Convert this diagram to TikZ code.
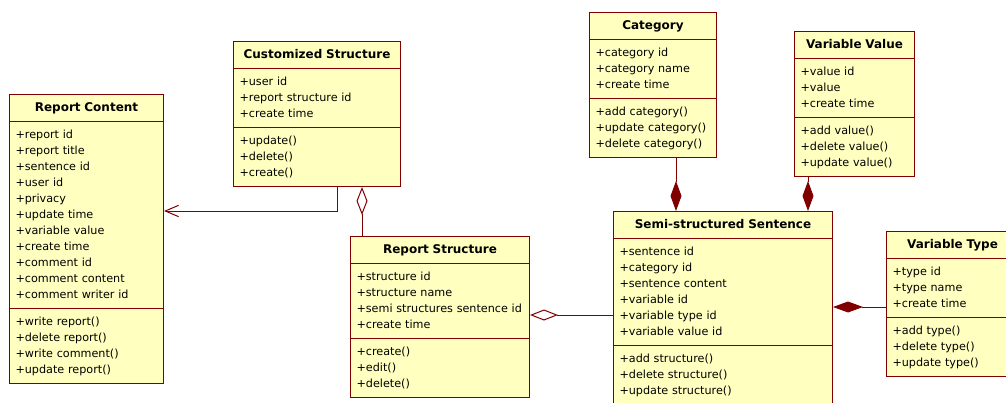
\documentclass[tikz,border=0pt]{standalone}
\usepackage{fontspec}
\setmainfont{DejaVu Sans}
\usepackage{tikz}
\usetikzlibrary{shapes.multipart, arrows.meta}
\definecolor{rosefill}{RGB}{255,255,192}
\definecolor{roseline}{RGB}{128,0,0}
\newcommand{\pub}{\strut+}
\newcommand{\classname}[1]{\hbox to\hsize{\hss\strut\fontsize{9}{12}\selectfont\textbf{#1}\hss}}

\begin{document}
\begin{tikzpicture}[
            x = 0.75pt, y = -0.75pt,
            umlclass/.style = {rectangle split, rectangle split parts=3, draw=roseline, fill=rosefill,
                line width=0.75pt, anchor=north west, align=left, text width=#1,
                inner xsep=4.5pt, inner ysep=3.75pt, font=\fontsize{8.4}{12}\selectfont},
            link/.style = {draw=roseline, line width=0.75pt},
            navigable/.style = {link, -{Straight Barb[length=10pt, width=8.5pt]}},
            aggregation/.style = {link, {Diamond[open, fill=white, length=21pt, width=8.25pt]}-},
            composition/.style = {link, -{Diamond[length=22.5pt, width=8.25pt]}}
        ]
            \clip (0,0) rectangle (1006,403);

            % Classes
            \node[umlclass=106.5pt] (rc) at (9,94) {\classname{Report Content}
                \nodepart{second} \pub report id\\ \pub report title\\ \pub sentence id\\ \pub user id\\
                \pub privacy\\ \pub update time\\ \pub variable value\\ \pub create time\\
                \pub comment id\\ \pub comment content\\ \pub comment writer id
                \nodepart{third} \pub write report()\\ \pub delete report()\\ \pub write comment()\\
                \pub update report()};
            \node[umlclass=116.25pt] (cs) at (233,41) {\classname{Customized Structure}
                \nodepart{second} \pub user id\\ \pub report structure id\\ \pub create time
                \nodepart{third} \pub update()\\ \pub delete()\\ \pub create()};
            \node[umlclass=125.25pt] (rs) at (350,236) {\classname{Report Structure}
                \nodepart{second} \pub structure id\\ \pub structure name\\
                \pub semi structures sentence id\\ \pub create time
                \nodepart{third} \pub create()\\ \pub edit()\\ \pub delete()};
            \node[umlclass=155.25pt] (ss) at (613,211) {\classname{Semi-structured Sentence}
                \nodepart{second} \pub sentence id\\ \pub category id\\ \pub sentence content\\
                \pub variable id\\ \pub variable type id\\ \pub variable value id
                \nodepart{third} \pub add structure()\\ \pub delete structure()\\
                \pub update structure()\rule[-10pt]{0pt}{10pt}};
            \node[umlclass=86.25pt] (cat) at (589,12) {\classname{Category}
                \nodepart{second} \pub category id\\ \pub category name\\ \pub create time
                \nodepart{third} \pub add category()\\ \pub update category()\\ \pub delete category()};
            \node[umlclass=81pt] (vv) at (794,31) {\classname{Variable Value}
                \nodepart{second} \pub value id\\ \pub value\\ \pub create time
                \nodepart{third} \pub add value()\\ \pub delete value()\\ \pub update value()};
            \node[umlclass=90pt] (vt) at (886,231) {\classname{Variable Type}
                \nodepart{second} \pub type id\\ \pub type name\\ \pub create time
                \nodepart{third} \pub add type()\\ \pub delete type()\\ \pub update type()};

            % Relations
            \coordinate (navbend) at (337,211);
            \path[navigable] (cs.south -| navbend) |- (rc.east |- navbend);
            \coordinate (aggx) at (362,0);
            \path[aggregation] (cs.south -| aggx) -- (rs.north -| aggx);
            \path[aggregation] (rs.east |- 0,315) -- (ss.west |- 0,315);
            \coordinate (catx) at (676,0);
            \path[composition] (cat.south -| catx) -- (ss.north -| catx);
            \coordinate (vvx) at (808,0);
            \path[composition] (vv.south -| vvx) -- (ss.north -| vvx);
            \path[composition] (vt.west |- 0,307) -- (ss.east |- 0,307);

        \end{tikzpicture}
\end{document}
